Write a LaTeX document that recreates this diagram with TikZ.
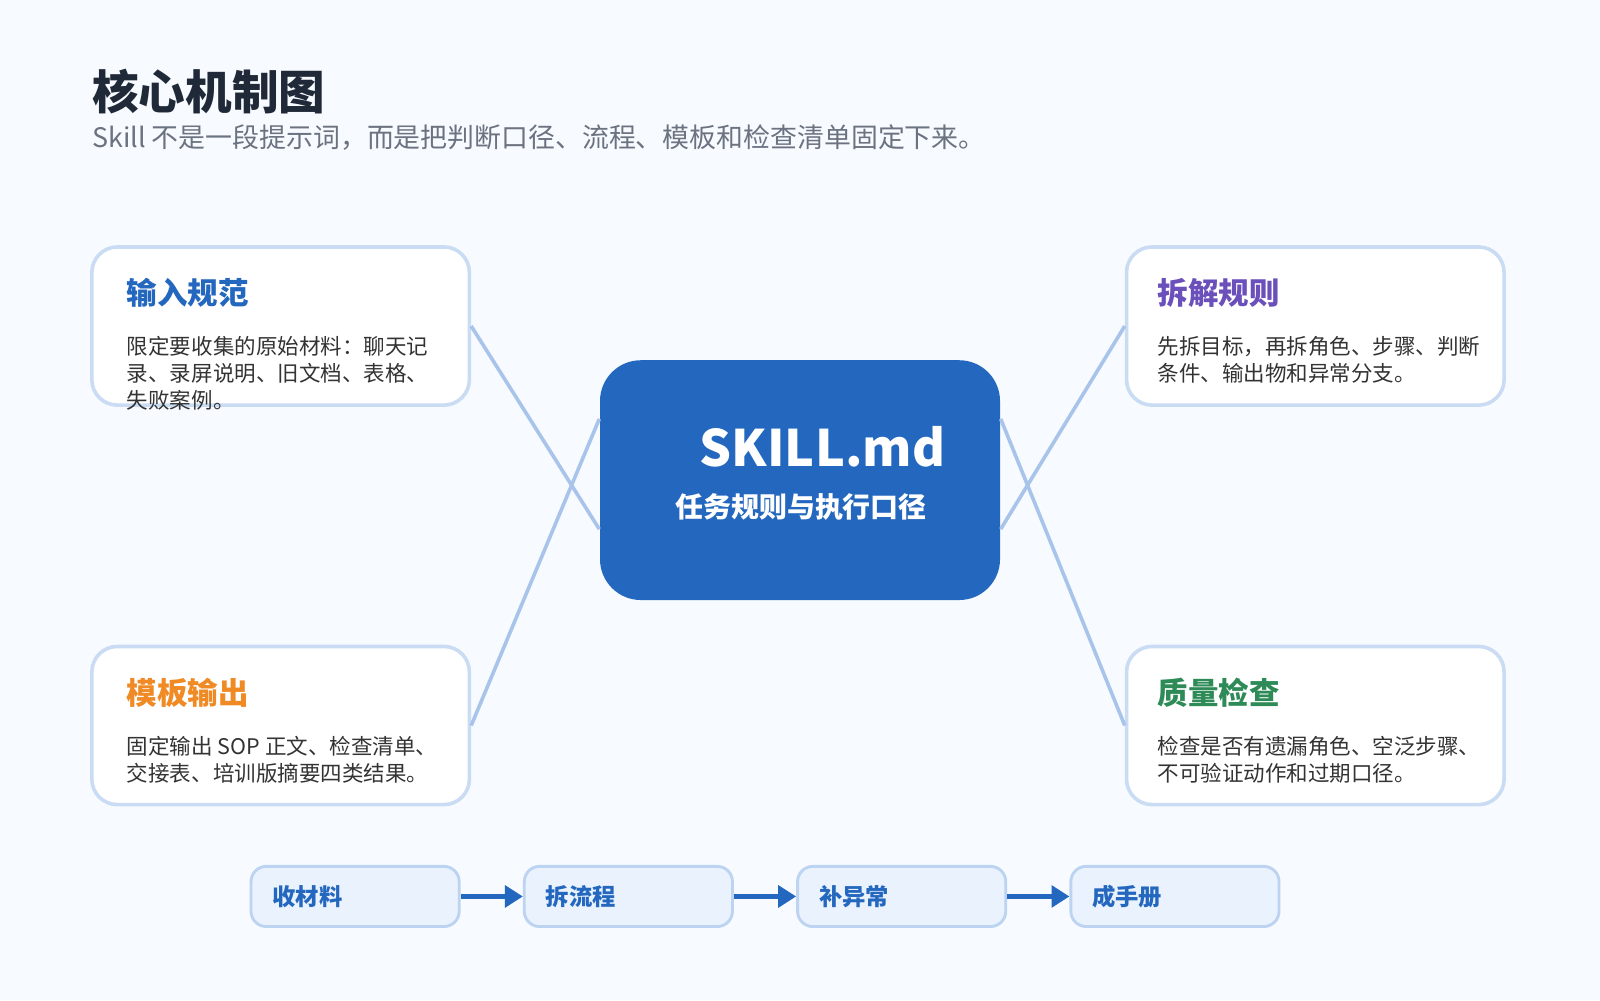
\documentclass[tikz,border=0pt]{standalone}
\usepackage{fontspec}
\setmainfont{Noto Sans CJK SC}
\usetikzlibrary{positioning,arrows.meta}
\definecolor{bgc}{HTML}{F7FAFE}
\definecolor{mainblue}{HTML}{2467BE}
\definecolor{linkc}{HTML}{A9C4EA}
\definecolor{cardline}{HTML}{C9DCF3}
\definecolor{flowfill}{HTML}{EAF2FD}
\definecolor{flowline}{HTML}{BCD3F2}
\definecolor{titlec}{HTML}{1F2937}
\definecolor{subc}{HTML}{6B7280}
\definecolor{bodyc}{HTML}{333333}
\definecolor{purplec}{HTML}{6B4FBB}
\definecolor{orangec}{HTML}{F08A24}
\definecolor{greenc}{HTML}{2E8B57}
\begin{document}
\begin{tikzpicture}[x=1cm,y=-1cm,
  card/.style={draw=cardline, line width=1pt, fill=white, rounded corners=0.25cm, minimum width=3.7cm, minimum height=1.55cm},
  head/.style={anchor=west, font=\fontsize{8.5pt}{10pt}\selectfont\bfseries},
  body/.style={anchor=north west, align=left, text=bodyc, font=\fontsize{6pt}{7.6pt}\selectfont},
  link/.style={draw=linkc, line width=1pt},
  flowbox/.style={draw=flowline, line width=0.8pt, fill=flowfill, rounded corners=0.15cm, minimum width=2.04cm, minimum height=0.59cm},
  flowtxt/.style={anchor=west, text=mainblue, font=\fontsize{6.5pt}{8pt}\selectfont\bfseries},
  flowarrow/.style={draw=mainblue, line width=1.3pt, -{Triangle[length=5pt,width=6pt]}}]
\fill[bgc] (0,0) rectangle (15.68,9.8);
\useasboundingbox (0,0) rectangle (15.68,9.8);
% heading
\node[anchor=west, text=titlec, font=\fontsize{13pt}{15pt}\selectfont\bfseries] (title) at (0.78,0.9) {核心机制图};
\node[anchor=west, text=subc, font=\fontsize{7.5pt}{9pt}\selectfont] (subtitle) at (0.78,1.35) {Skill 不是一段提示词，而是把判断口径、流程、模板和检查清单固定下来。};
% centre
\node[fill=mainblue, rounded corners=0.4cm, minimum width=3.92cm, minimum height=2.35cm] (core) at (7.84,4.705) {};
\node[text=white, font=\fontsize{14pt}{16pt}\selectfont\bfseries] (coret) at (8.06,4.38) {SKILL.md};
\node[text=white, font=\fontsize{7.8pt}{9pt}\selectfont\bfseries] (cores) at (7.85,4.97) {任务规则与执行口径};
% cards
\node[card] (in) at (2.75,3.195) {};
\node[card] (split) at (12.89,3.195) {};
\node[card] (tpl) at (2.75,7.11) {};
\node[card] (check) at (12.89,7.11) {};
\node[head, text=mainblue] at (1.12,2.87) {输入规范};
\node[body] at (1.12,3.17) {限定要收集的原始材料：聊天记\\录、录屏说明、旧文档、表格、\\失败案例。};
\node[head, text=purplec] at (11.22,2.87) {拆解规则};
\node[body] at (11.22,3.17) {先拆目标，再拆角色、步骤、判断\\条件、输出物和异常分支。};
\node[head, text=orangec] at (1.12,6.79) {模板输出};
\node[body] at (1.12,7.09) {固定输出 SOP 正文、检查清单、\\交接表、培训版摘要四类结果。};
\node[head, text=greenc] at (11.22,6.79) {质量检查};
\node[body] at (11.22,7.09) {检查是否有遗漏角色、空泛步骤、\\不可验证动作和过期口径。};
% links
\draw[link] (in.east) -- ([yshift=-0.48cm]core.west);
\draw[link] (split.west) -- ([yshift=-0.48cm]core.east);
\draw[link] (tpl.east) -- ([yshift=0.6cm]core.west);
\draw[link] (check.west) -- ([yshift=0.6cm]core.east);
% flow
\node[flowbox] (f1) at (3.48,8.785) {};
\node[flowbox, right=0.61cm of f1] (f2) {};
\node[flowbox, right=0.61cm of f2] (f3) {};
\node[flowbox, right=0.61cm of f3] (f4) {};
\foreach \n/\t in {f1/收材料, f2/拆流程, f3/补异常, f4/成手册}
  \node[flowtxt] at ([xshift=0.1cm]\n.west) {\t};
\draw[flowarrow] (f1) -- (f2);
\draw[flowarrow] (f2) -- (f3);
\draw[flowarrow] (f3) -- (f4);
\end{tikzpicture}
\end{document}
